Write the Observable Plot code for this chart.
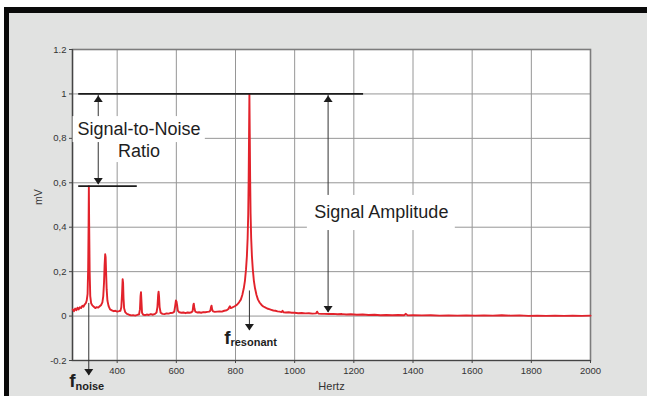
<!DOCTYPE html>
<html><head><meta charset="utf-8">
<script src="https://cdn.jsdelivr.net/npm/d3@7"></script>
<script src="https://cdn.jsdelivr.net/npm/@observablehq/plot@0.6"></script>
<style>
html,body{margin:0;padding:0;background:#fff;}
#wrap{position:relative;width:647px;height:396px;overflow:hidden;background:#fff;}
#panel{position:absolute;left:4px;top:7px;right:0;bottom:0;background:#e1e2e1;border-top:6px solid #0a0a0a;border-left:5px solid #0a0a0a;}
#chart{position:absolute;left:0;top:0;}
</style></head><body>
<div id="wrap"><div id="panel"></div><div id="chart"></div></div>
<script>
// ---- spectrum data ----
const hertz = [
  250,254,258,262,266,270,274,278,282,286,
  290,294,297,300,302,303.3,304.3,305.3,307,309,
  312,316,321,326,331,336,341,346,350,353,
  355.5,357.5,359.5,361,362.5,364.5,367,371,376,382,
  388,394,400,406,411,414,416.5,418.5,420,421.5,
  423.5,427,433,440,447,454,461,468,474,477,
  479,480.5,482,484,488,494,500,507,514,521,
  528,533,536,538.5,540,541.5,543.5,547,553,560,
  567,574,581,588,593,596,598.5,600.5,602.5,605,
  610,617,624,631,638,645,651,655,657.5,659,
  661,664,670,677,684,691,698,705,711,715,
  717.5,719,721,724,730,738,746,754,762,770,
  776,779,781,784,788,794,800,806,812,818,
  823,828,832,835.5,838.5,841,843,844.5,845.8,847,
  848.2,849.5,851,853,855.5,858.5,862,866,871,876,
  882,888,894,900,907,914,921,928,935,942,
  949,956,959,962,970,980,990,1000,1012,1024,
  1036,1048,1060,1072,1076,1080,1090,1100,1115,1130,
  1145,1160,1175,1190,1210,1230,1250,1270,1290,1310,
  1330,1350,1370,1376,1382,1400,1430,1460,1490,1520,
  1550,1580,1610,1640,1670,1700,1730,1760,1790,1820,
  1850,1880,1910,1940,1970,2000
];
const millivolts = [
  .030,.022,.034,.026,.038,.030,.040,.036,.046,.042,
  .052,.058,.070,.100,.220,.400,.585,.420,.200,.090,
  .058,.048,.042,.036,.040,.038,.044,.050,.062,.090,
  .150,.230,.278,.265,.200,.120,.070,.045,.030,.026,
  .022,.024,.020,.022,.024,.040,.100,.166,.150,.080,
  .035,.018,.010,.006,.003,.004,.002,.005,.008,.030,
  .090,.108,.070,.015,.006,.004,.007,.005,.009,.006,
  .010,.016,.040,.095,.110,.090,.040,.015,.010,.009,
  .012,.011,.014,.015,.020,.045,.070,.066,.050,.025,
  .017,.015,.016,.013,.016,.015,.017,.022,.050,.056,
  .035,.020,.016,.017,.015,.018,.017,.019,.020,.024,
  .042,.047,.030,.021,.019,.020,.021,.020,.024,.026,
  .032,.040,.044,.036,.038,.042,.046,.052,.062,.074,
  .095,.125,.160,.210,.270,.350,.460,.620,.820,1.000,
  .820,.620,.460,.350,.270,.210,.160,.125,.095,.074,
  .060,.050,.043,.039,.034,.031,.028,.025,.024,.021,
  .020,.018,.024,.017,.016,.017,.015,.015,.013,.014,
  .012,.013,.011,.012,.020,.011,.010,.010,.009,.010,
  .008,.009,.007,.008,.006,.007,.005,.006,.004,.005,
  .004,.005,.004,.010,.003,.004,.003,.004,.002,.003,
  .002,.003,.002,.003,.002,.004,.002,.003,.001,.002,
  .001,.002,.001,.002,.001,.002
];

// ---- axes ----
const xDomain = [249, 2000];
const yDomain = [-0.2, 1.2];
const xTicks = [400, 600, 800, 1000, 1200, 1400, 1600, 1800, 2000];
const xTickLabels = ["400", "600", "800", "1000", "1200", "1400", "1600", "1800", "2000"];
const xGrid = [400, 600, 800, 1000, 1200, 1400, 1600, 1800];
const yTicks = [-0.2, 0, 0.2, 0.4, 0.6, 0.8, 1, 1.2];
const yTickLabels = ["-0.2", "0", "0,2", "0,4", "0,6", "0,8", "1", "1.2"];
const yGrid = [0, 0.2, 0.4, 0.6, 0.8, 1];
const xLabel = "Hertz";
const yLabel = "mV";

// ---- annotations ----
const refLevel = [1.0, 0.585];
const refFrom = [270, 270];
const refTo = [1233, 468];

const shaftX  = [336, 336, 1113, 1113, 304, 847];
const shaftY1 = [1.0, 0.781, 1.0, 0.385, 0.057, 0.113];
const shaftY2 = [0.898, 0.592, 0.543, 0.016, -0.267, -0.065];

const headUpX = [336, 1113];
const headUpY = [0.993, 0.993];
const headDownX = [336, 1113, 304, 847];
const headDownY = [0.592, 0.016, -0.267, -0.065];

const boxX1 = [251, 394, 1043];
const boxX2 = [698, 553, 1543];
const boxY1 = [0.781, 0.691, 0.385];
const boxY2 = [0.898, 0.781, 0.543];

const noteText = ["Signal-to-Noise", "Ratio", "Signal Amplitude"];
const noteX = [474, 474, 1293];
const noteY = [0.817, 0.718, 0.442];

const fX = [259, 783];
const fY = [-0.320, -0.125];
const fSub = ["noise", "resonant"];
const fSubY = [-0.332, -0.1325];

// ---- tables built from arrays ----
const spectrum = hertz.map((h, i) => ({h, v: millivolts[i]}));
const refs = refLevel.map((y, i) => ({y, x1: refFrom[i], x2: refTo[i]}));
const shafts = shaftX.map((x, i) => ({x, y1: shaftY1[i], y2: shaftY2[i]}));
const headsUp = headUpX.map((x, i) => ({x, y: headUpY[i]}));
const headsDown = headDownX.map((x, i) => ({x, y: headDownY[i]}));
const boxes = boxX1.map((x1, i) => ({x1, x2: boxX2[i], y1: boxY1[i], y2: boxY2[i]}));
const notes = noteText.map((t, i) => ({t, x: noteX[i], y: noteY[i]}));
const fMain = fX.map((x, i) => ({x, y: fY[i]}));
const fSubs = fSub.map((t, i) => ({t, x: fX[i], y: fSubY[i]}));

const upSym = {draw(ctx) { ctx.moveTo(0, 0); ctx.lineTo(4.5, 6.5); ctx.lineTo(-4.5, 6.5); ctx.closePath(); }};
const downSym = {draw(ctx) { ctx.moveTo(0, 0); ctx.lineTo(4.5, -6.5); ctx.lineTo(-4.5, -6.5); ctx.closePath(); }};

const font = "'Liberation Sans', Arial, Helvetica, sans-serif";

const chart = Plot.plot({
  width: 647, height: 396,
  marginLeft: 72, marginRight: 57, marginTop: 49, marginBottom: 36,
  style: {background: "transparent", fontFamily: font, fontSize: "9.5px", color: "#333", overflow: "visible"},
  x: {domain: xDomain},
  y: {domain: yDomain},
  marks: [
    Plot.frame({fill: "white"}),
    Plot.gridX(xGrid, {stroke: "#969696", strokeOpacity: 1, strokeWidth: 1}),
    Plot.gridY(yGrid, {stroke: "#969696", strokeOpacity: 1, strokeWidth: 1}),
    Plot.frame({stroke: "#7c7c7c", strokeWidth: 1.6}),
    Plot.ruleX([xDomain[0]], {stroke: "#444", strokeWidth: 1.2}),
    Plot.ruleY([yDomain[0]], {stroke: "#444", strokeWidth: 1.2}),
    Plot.rect(boxes, {x1: "x1", x2: "x2", y1: "y1", y2: "y2", fill: "white"}),
    Plot.line(spectrum, {x: "h", y: "v", stroke: "#e2222b", strokeWidth: 1.9, strokeLinejoin: "round"}),
    Plot.ruleY(refs, {y: "y", x1: "x1", x2: "x2", stroke: "#1c1c1c", strokeWidth: 1.8}),
    Plot.ruleX(shafts, {x: "x", y1: "y1", y2: "y2", stroke: "#333", strokeWidth: 1}),
    Plot.dot(headsUp, {x: "x", y: "y", symbol: upSym, fill: "#1c1c1c", stroke: "none", r: 4}),
    Plot.dot(headsDown, {x: "x", y: "y", symbol: downSym, fill: "#1c1c1c", stroke: "none", r: 4}),
    Plot.text(notes, {x: "x", y: "y", text: "t", textAnchor: "middle", lineAnchor: "bottom", fontSize: 18, fill: "#1e1e1e"}),
    Plot.text(fMain, {x: "x", y: "y", text: () => "f", textAnchor: "end", lineAnchor: "bottom", fontSize: 19, fontWeight: "bold", fill: "#1e1e1e"}),
    Plot.text(fSubs, {x: "x", y: "y", text: "t", textAnchor: "start", lineAnchor: "bottom", fontSize: 11, fontWeight: "bold", fill: "#1e1e1e"}),
    Plot.axisX(xTicks, {anchor: "bottom", tickSize: 3, tickPadding: 4, label: null, tickFormat: d => xTickLabels[xTicks.indexOf(d)], stroke: "#444", fill: "#333"}),
    Plot.axisY(yTicks, {anchor: "left", tickSize: 3, tickPadding: 3, label: null, tickFormat: d => yTickLabels[yTicks.indexOf(d)], stroke: "#444", fill: "#333"}),
    Plot.text([xLabel], {frameAnchor: "bottom", dy: 29, lineAnchor: "bottom", text: d => d, fontSize: 11, fill: "#333"}),
    Plot.text([yLabel], {frameAnchor: "left", dx: -34, rotate: -90, text: d => d, fontSize: 10.5, fill: "#333"})
  ]
});
document.getElementById("chart").appendChild(chart);
</script>
</body></html>
